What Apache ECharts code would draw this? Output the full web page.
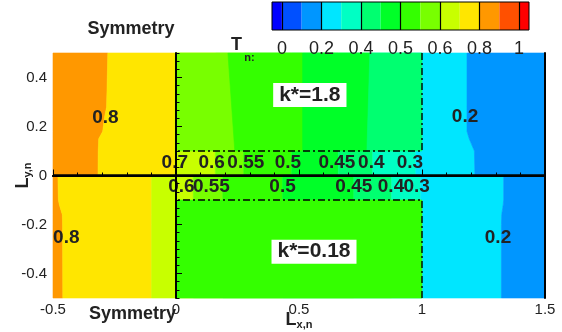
<!DOCTYPE html>
<html>
<head>
<meta charset="utf-8">
<script src="https://cdn.jsdelivr.net/npm/echarts@6/dist/echarts.min.js"></script>
<style>
  html, body { margin: 0; padding: 0; background: #fff; }
  #chart { width: 562px; height: 332px; }
</style>
</head>
<body>
<div id="chart"></div>
<script>
// T_n contour levels and the fill colour of every band (below 0 ... above 1)
const levels = [0, 0.1, 0.2, 0.3, 0.4, 0.45, 0.5, 0.55, 0.6, 0.7, 0.8, 0.9, 1];
const bandColors = ['#0000ff', '#0050ff', '#0096ff', '#00e6ff', '#00ffc4', '#00ff70', '#00ff28',
                    '#34ff00', '#78ff00', '#c8ff00', '#ffe600', '#ff9800', '#ff5000', '#ff0000'];
const legendTicks = [0, 0.2, 0.4, 0.5, 0.6, 0.8, 1];

// axis tick labels
const xTicks = [-0.5, 0, 0.5, 1, 1.5];
const yTicks = [-0.4, -0.2, 0, 0.2, 0.4];

// Upper half (k* = 1.8), surrounding medium: x of each contour at the heights in upperOuterY
const upperOuterY = [0.5, 0.28, 0.24, 0.18, 0.15, 0.1, 0];
const upperOuterLevels = [0.8, 0.7, 0.6, 0.55, 0.5, 0.45, 0.4, 0.3, 0.2];
const upperOuterX = [
  [-0.277, -0.282, -0.290, -0.298, -0.314, -0.316, -0.317],
  [-0.004, -0.004, -0.004, -0.004, -0.004, -0.004, -0.004],
  [0.16, 0.16, 0.16, 0.16, 0.16, 0.16, 0.16],
  [0.275, 0.275, 0.275, 0.275, 0.275, 0.275, 0.275],
  [0.47, 0.47, 0.47, 0.47, 0.47, 0.47, 0.47],
  [0.66, 0.66, 0.66, 0.66, 0.66, 0.66, 0.66],
  [0.80, 0.80, 0.80, 0.80, 0.80, 0.80, 0.80],
  [0.975, 0.975, 0.975, 0.975, 0.975, 0.975, 0.975],
  [1.183, 1.183, 1.183, 1.183, 1.192, 1.213, 1.215]
];

// Upper half, insert (0 <= x <= 1, 0.1 <= y <= 0.5)
const upperInsertBox = [0, 1, 0.1, 0.5];
const upperInsertY = [0.5, 0.1];
const upperInsertLevels = [0.55, 0.5, 0.45];
const upperInsertX = [
  [0.211, 0.239],
  [0.515, 0.515],
  [0.788, 0.776]
];

// Lower half (k* = 0.18), surrounding medium
const lowerOuterY = [0, -0.1, -0.12, -0.16, -0.2, -0.5];
const lowerOuterLevels = [0.8, 0.7, 0.6, 0.55, 0.5, 0.45, 0.4, 0.3, 0.2];
const lowerOuterX = [
  [-0.480, -0.478, -0.474, -0.462, -0.461, -0.460],
  [-0.099, -0.099, -0.099, -0.099, -0.099, -0.099],
  [0.07, 0.07, 0.07, 0.07, 0.07, 0.07],
  [0.19, 0.19, 0.19, 0.19, 0.19, 0.19],
  [0.433, 0.433, 0.433, 0.433, 0.433, 0.433],
  [0.723, 0.723, 0.723, 0.723, 0.723, 0.723],
  [0.877, 0.877, 0.877, 0.877, 0.877, 0.877],
  [0.995, 0.995, 0.995, 0.995, 0.995, 0.995],
  [1.332, 1.332, 1.330, 1.324, 1.323, 1.323]
];

// Lower half, insert (0 <= x <= 1, -0.5 <= y <= -0.1): a single band
const lowerInsertBox = [0, 1, -0.5, -0.1];
const lowerInsertValue = 0.52;

// contour labels: [x, y, level]
const upperLabels = [[-0.005, 0.054, 0.7], [0.145, 0.054, 0.6], [0.284, 0.054, 0.55], [0.455, 0.054, 0.5],
                     [0.654, 0.054, 0.45], [0.794, 0.054, 0.4], [0.951, 0.054, 0.3],
                     [-0.287, 0.236, 0.8], [1.175, 0.24, 0.2]];
const lowerLabels = [[0.022, -0.048, 0.6], [0.144, -0.048, 0.55], [0.433, -0.048, 0.5], [0.723, -0.048, 0.45],
                     [0.874, -0.048, 0.4], [0.978, -0.048, 0.3],
                     [-0.446, -0.254, 0.8], [1.309, -0.253, 0.2]];
const caseLabels = [[0.544, 0.329, 'k*=1.8'], [0.561, -0.311, 'k*=0.18']];

const FONT = '"Liberation Sans", Arial, Helvetica, sans-serif';
const INK = '#222';

function colorOf(v) {
  let i = 0;
  while (i < levels.length && levels[i] <= v) i++;
  return bandColors[i];
}

// Split a region into filled bands between successive contour lines
function regionBands(x0, x1, ys, lvls, xs, singleValue) {
  const lines = [ys.map(() => x0)].concat(xs, [ys.map(() => x1)]);
  const n = lvls.length;
  const bands = [];
  for (let k = 0; k < lines.length - 1; k++) {
    let v;
    if (n === 0) v = singleValue;
    else if (k === 0) v = lvls[0] + 0.01;
    else if (k === n) v = lvls[n - 1] - 0.01;
    else v = (lvls[k - 1] + lvls[k]) / 2;
    const left = lines[k].map((x, i) => [x, ys[i]]);
    const right = lines[k + 1].map((x, i) => [x, ys[i]]).reverse();
    bands.push({ pts: left.concat(right), color: colorOf(v) });
  }
  return bands;
}

const outerBands = regionBands(-0.5, 1.5, upperOuterY, upperOuterLevels, upperOuterX)
  .concat(regionBands(-0.5, 1.5, lowerOuterY, lowerOuterLevels, lowerOuterX));
const insertBands = regionBands(upperInsertBox[0], upperInsertBox[1], upperInsertY, upperInsertLevels, upperInsertX)
  .concat(regionBands(lowerInsertBox[0], lowerInsertBox[1], [lowerInsertBox[3], lowerInsertBox[2]], [], [], lowerInsertValue));

function bandSeries(bands, z) {
  return {
    type: 'custom', xAxisIndex: 0, yAxisIndex: 0, silent: true, z: z,
    data: bands.map(b => b.pts[0]),
    renderItem: (params, api) => {
      const b = bands[params.dataIndex];
      return {
        type: 'polygon',
        shape: { points: b.pts.map(p => api.coord(p)) },
        style: { fill: b.color, stroke: b.color, lineWidth: 0.6 }
      };
    }
  };
}

function frame(box, openTop) {
  const [x0, x1, y0, y1] = box;
  return openTop ? [[x0, y1], [x0, y0], [x1, y0], [x1, y1]]
                 : [[x0, y0], [x0, y1], [x1, y1], [x1, y0]];
}

const levelIndex = v => levels.indexOf(v);
const legendIdx = legendTicks.map(levelIndex);

const chart = echarts.init(document.getElementById('chart'), null, { renderer: 'canvas' });

const nameRich = {
  L: { fontFamily: FONT, fontSize: 18, fontWeight: 'bold', color: INK, lineHeight: 20 },
  s: { fontFamily: FONT, fontSize: 11, fontWeight: 'bold', color: INK, lineHeight: 11, verticalAlign: 'bottom' }
};

chart.setOption({
  animation: false,
  backgroundColor: '#fff',
  grid: [
    { left: 53, right: 17, top: 53, bottom: 34, show: false, outerBoundsMode: 'none', containLabel: false },
    { left: 272, top: 2, width: 257, height: 28, show: true, z: 10, outerBoundsMode: 'none', containLabel: false,
      backgroundColor: 'transparent', borderColor: '#000', borderWidth: 1 }
  ],
  xAxis: [
    { gridIndex: 0, type: 'value', position: 'bottom', min: -0.5, max: 1.5, interval: 0.5, z: 10,
      axisLine: { show: true, lineStyle: { color: '#000', width: 2 } },
      axisTick: { show: true, inside: true, length: 6, lineStyle: { color: '#000', width: 1 } },
      minorTick: { show: true, splitNumber: 5, length: 3, lineStyle: { color: '#000', width: 1 } },
      axisLabel: { fontFamily: FONT, fontSize: 15, color: INK, margin: 4, customValues: xTicks },
      splitLine: { show: false },
      name: '{L|L}{s|x,n}', nameLocation: 'middle', nameGap: 12, nameMoveOverlap: false,
      nameTextStyle: { rich: nameRich } },
    { gridIndex: 0, type: 'value', position: 'top', min: -0.5, max: 1.5, z: 10,
      axisLine: { show: true, lineStyle: { color: '#000', width: 2 } },
      axisTick: { show: false }, axisLabel: { show: false }, splitLine: { show: false } },
    { gridIndex: 1, type: 'value', position: 'bottom', min: -0.5, max: 12.5, z: 10,
      axisLine: { show: false },
      axisTick: { show: true, inside: true, length: 28, customValues: legendIdx,
                  lineStyle: { color: '#000', width: 1.2 } },
      axisLabel: { customValues: legendIdx, fontFamily: FONT, fontSize: 18, color: INK, margin: 10,
                   formatter: v => String(levels[Math.round(v)]) },
      splitLine: { show: false } }
  ],
  yAxis: [
    { gridIndex: 0, type: 'value', position: 'left', min: -0.5, max: 0.5, interval: 0.1, z: 10,
      axisLine: { show: true, lineStyle: { color: '#000', width: 2 } },
      axisTick: { show: true, inside: true, length: 3.5, lineStyle: { color: '#000', width: 1 } },
      minorTick: { show: true, splitNumber: 3, length: 3.5, lineStyle: { color: '#000', width: 1 } },
      axisLabel: { show: false }, splitLine: { show: false },
      name: '{L|L}{s|y,n}', nameLocation: 'middle', nameRotate: 90, nameGap: 20, nameMoveOverlap: false,
      nameTextStyle: { rich: nameRich } },
    { gridIndex: 0, type: 'value', position: 'left', min: -0.5, max: 0.5, interval: 0.1, z: 10,
      axisLine: { show: false },
      axisTick: { show: true, inside: true, length: 6, customValues: yTicks, lineStyle: { color: '#000', width: 1 } },
      axisLabel: { customValues: yTicks, fontFamily: FONT, fontSize: 15, color: INK, margin: 6 },
      splitLine: { show: false } },
    { gridIndex: 0, type: 'value', position: 'right', min: -0.5, max: 0.5, z: 10,
      axisLine: { show: true, lineStyle: { color: '#000', width: 2 } },
      axisTick: { show: false }, axisLabel: { show: false }, splitLine: { show: false } },
    { gridIndex: 1, type: 'value', min: 0, max: 1, show: false }
  ],
  series: [
    bandSeries(outerBands, 1),
    bandSeries(insertBands, 2),
    // dash-dot outlines of the inserts
    { type: 'line', xAxisIndex: 0, yAxisIndex: 0, z: 3, symbol: 'none', silent: true,
      data: frame(upperInsertBox, true),
      lineStyle: { color: '#000', width: 1.4, type: [7, 3, 2, 3] } },
    { type: 'line', xAxisIndex: 0, yAxisIndex: 0, z: 3, symbol: 'none', silent: true,
      data: frame(lowerInsertBox, false),
      lineStyle: { color: '#000', width: 1.4, type: [7, 3, 2, 3] } },
    // plane of symmetry between the two halves
    { type: 'line', xAxisIndex: 0, yAxisIndex: 0, z: 4, symbol: 'none', silent: true,
      data: [[-0.5, 0], [1.5, 0]], lineStyle: { color: '#000', width: 2.5 } },
    // contour labels
    { type: 'scatter', xAxisIndex: 0, yAxisIndex: 0, z: 5, silent: true, symbolSize: 1,
      itemStyle: { color: 'rgba(0,0,0,0)', opacity: 1 },
      data: upperLabels.concat(lowerLabels),
      label: { show: true, position: 'inside', fontFamily: FONT, fontSize: 19, fontWeight: 'bold', color: INK,
               opacity: 1, textBorderWidth: 0, formatter: p => String(p.value[2]) } },
    { type: 'scatter', xAxisIndex: 0, yAxisIndex: 0, z: 5, silent: true, symbolSize: 1,
      itemStyle: { color: 'rgba(0,0,0,0)', opacity: 1 },
      data: caseLabels,
      label: { show: true, position: 'inside', fontFamily: FONT, fontSize: 21, fontWeight: 'bold', color: INK,
               opacity: 1, textBorderWidth: 0, backgroundColor: '#fff', padding: [2, 6, 1, 6],
               formatter: p => p.value[2] } },
    // colour legend
    { type: 'custom', xAxisIndex: 2, yAxisIndex: 3, silent: true, z: 2,
      data: bandColors.map((c, i) => [i, 0.5]),
      renderItem: (params, api) => {
        const i = params.dataIndex;
        const lo = i === 0 ? -0.5 : i - 1;
        const hi = i === bandColors.length - 1 ? 12.5 : i;
        const a = api.coord([lo, 1]);
        const b = api.coord([hi, 0]);
        return { type: 'rect', shape: { x: a[0], y: a[1], width: b[0] - a[0], height: b[1] - a[1] },
                 style: { fill: bandColors[i] } };
      } }
  ],
  graphic: [
    { type: 'text', x: 131, y: 29, z: 20,
      style: { text: 'Symmetry', font: 'bold 18px ' + FONT, fill: INK, align: 'center', verticalAlign: 'middle' } },
    { type: 'text', x: 132.5, y: 314, z: 20,
      style: { text: 'Symmetry', font: 'bold 18px ' + FONT, fill: INK, align: 'center', verticalAlign: 'middle' } },
    { type: 'text', x: 236.5, y: 45, z: 20,
      style: { text: 'T', font: 'bold 18px ' + FONT, fill: INK, align: 'center', verticalAlign: 'middle' } },
    { type: 'text', x: 249.5, y: 58, z: 20,
      style: { text: 'n:', font: 'bold 11px ' + FONT, fill: INK, align: 'center', verticalAlign: 'middle' } }
  ]
});
</script>
</body>
</html>
